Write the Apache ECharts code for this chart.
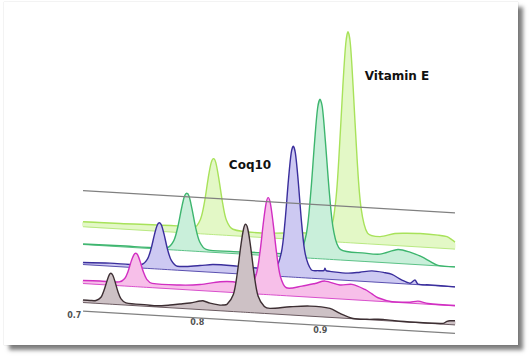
<!DOCTYPE html>
<html>
<head>
<meta charset="utf-8">
<script src="https://cdn.jsdelivr.net/npm/echarts@6.0.0/dist/echarts.min.js"></script>
<style>
html,body{margin:0;padding:0;background:#fff;width:530px;height:356px;overflow:hidden;}
#card{position:absolute;left:4px;top:2px;width:514px;height:343px;background:#fff;
  box-shadow:5px 5px 4px rgba(0,0,0,0.5),0 0 1px rgba(0,0,0,0.25);}
#chart{position:absolute;left:0;top:0;width:530px;height:356px;}
</style>
</head>
<body>
<div id="card"></div>
<div id="chart"></div>
<script>
// ---------- data (retention time [min], intensity) ----------
const tickValues = [0.7, 0.8, 0.9];
const tickLabels = ['0.7', '0.8', '0.9'];
const peakLabels = ['Coq10', 'Vitamin E'];
const timeRange = [0.7071, 1.0095];

// front trace (grey)
const trace1 = [[0.7071,2.5],[0.7128,2.5],[0.7176,2.8],[0.7217,6.3],[0.7241,13.2],[0.7266,23.1],[0.7284,29.2],[0.7298,30.9],[0.7313,29],[0.7331,22.8],[0.7355,12.9],[0.7380,6],[0.7420,2.3],[0.7591,1.5],[0.7672,1.2],[0.7778,2.7],[0.7859,4.3],[0.7941,6],[0.8022,8.5],[0.8046,9],[0.8103,7],[0.8185,5.7],[0.8209,5.9],[0.8242,6.9],[0.8293,17.1],[0.8323,36.8],[0.8353,65.5],[0.8376,83.2],[0.8393,88],[0.8411,83.2],[0.8434,65.5],[0.8464,36.8],[0.8494,17.1],[0.8545,6.9],[0.8591,5.4],[0.8754,8.2],[0.8916,10.1],[0.9079,9],[0.9160,4.6],[0.9266,0.3],[0.9380,0.3],[0.9510,1.2],[0.9648,0.3],[0.9835,0.3],[0.9998,0.8],[1.0030,3],[1.0054,3.8],[1.0095,4.1]];
// magenta
const trace2 = [[0.7071,3],[0.7209,3.5],[0.7365,3.8],[0.7410,7.6],[0.7437,14.8],[0.7463,25.3],[0.7484,31.7],[0.7499,33.5],[0.7515,32],[0.7535,25.6],[0.7562,15.1],[0.7589,8],[0.7633,4.3],[0.7859,4.3],[0.8022,6],[0.8185,10],[0.8290,10.8],[0.8431,9],[0.8480,20],[0.8509,41.4],[0.8538,72.6],[0.8560,91.7],[0.8577,97],[0.8594,91.5],[0.8616,72.3],[0.8646,40.9],[0.8675,19.2],[0.8724,8],[0.8851,10.6],[0.8957,14],[0.9038,17],[0.9160,14],[0.9258,15.3],[0.9363,11],[0.9420,7],[0.9469,3.5],[0.9583,0.3],[0.9729,1],[0.9794,2.5],[0.9876,0.8],[1.0095,0.4]];
// blue
const trace3 = [[0.7071,2],[0.7290,3],[0.7545,3.5],[0.7593,8.9],[0.7623,19.3],[0.7652,34.5],[0.7674,43.8],[0.7691,46.4],[0.7708,44.3],[0.7730,35],[0.7759,19.8],[0.7789,9.4],[0.7837,4],[0.8022,6],[0.8128,7.8],[0.8323,7.7],[0.8493,7],[0.8634,8.4],[0.8683,23.7],[0.8712,53.5],[0.8741,97],[0.8763,123.7],[0.8780,131],[0.8798,123.7],[0.8820,97],[0.8849,53.5],[0.8878,23.7],[0.8927,8.4],[0.8981,8],[0.9030,8.5],[0.9038,11],[0.9047,8.5],[0.9079,8],[0.9225,7.3],[0.9323,9],[0.9420,11],[0.9526,10],[0.9583,8.7],[0.9664,3.6],[0.9729,1],[0.9770,4.5],[0.9794,0.5],[0.9892,0.5],[1.0095,0]];
// green
const trace4 = [[0.7071,0.5],[0.7372,1],[0.7755,2.1],[0.7808,9.1],[0.7840,22.5],[0.7872,42.2],[0.7895,54.2],[0.7914,57.5],[0.7933,54.7],[0.7956,42.7],[0.7988,23],[0.8020,9.6],[0.8072,2.6],[0.8266,2],[0.8510,2.5],[0.8754,3],[0.8832,4.7],[0.8887,24.4],[0.8920,61.9],[0.8954,117.2],[0.8978,150.4],[0.8998,159.5],[0.9017,151.4],[0.9041,118.2],[0.9075,64.9],[0.9108,28.9],[0.9163,10.7],[0.9363,8.4],[0.9485,8.3],[0.9632,14],[0.9729,12],[0.9827,8],[0.9892,4],[0.9957,0.5],[1.0095,0]];
// light green (back)
const trace5 = [[0.7071,5],[0.7372,5.5],[0.7835,6.5],[0.7973,5.8],[0.8026,14.6],[0.8058,31.6],[0.8089,56.5],[0.8113,71.8],[0.8132,76],[0.8150,72.3],[0.8174,57],[0.8206,32.1],[0.8237,15.1],[0.8290,6.5],[0.8493,4.5],[0.8835,7],[0.9067,10.2],[0.9120,35.4],[0.9151,84.1],[0.9183,155.4],[0.9207,199],[0.9225,211],[0.9244,199.5],[0.9267,155.9],[0.9299,84.6],[0.9331,35.9],[0.9384,10.7],[0.9485,8],[0.9607,12],[0.9705,13],[0.9811,13.5],[0.9957,13],[1.0030,12],[1.0071,9],[1.0095,7]];

// ---------- waterfall layout ----------
const skew = 74;                 // baseline drop per minute (perspective)
const wallOffset = 150;
const axisOffset = 29.5;
const layers = [
  {name: 'Sample 5', data: trace5, offset: 113.8, fill: '#e3f8c6', stroke: '#a8e25a', base: '#b9e982'},
  {name: 'Sample 4', data: trace4, offset: 96,    fill: '#c9efda', stroke: '#3db56e', base: '#5cc287'},
  {name: 'Sample 3', data: trace3, offset: 76,    fill: '#cdc9f2', stroke: '#3a2e9c', base: '#5a50b0'},
  {name: 'Sample 2', data: trace2, offset: 57,    fill: '#f7bfe9', stroke: '#d12ec2', base: '#d94fcc'},
  {name: 'Sample 1', data: trace1, offset: 38,    fill: '#cdc1c5', stroke: '#3d2f33', base: '#6a5a60'}
];
const baseAt = (offset, t) => offset - skew * (t - 0.7);

function makeRenderItem(L) {
  return function (params, api) {
    const ctx = params.context;
    if (!ctx.top) { ctx.top = []; ctx.base = []; }
    const t = api.value(0), h = api.value(1), b = api.value(2);
    ctx.top.push(api.coord([t, b + h]));
    ctx.base.push(api.coord([t, b]));
    if (params.dataIndexInside !== params.dataInsideLength - 1) return null;
    const poly = ctx.top.concat(ctx.base.slice().reverse());
    return {
      type: 'group',
      children: [
        {type: 'polygon', shape: {points: poly, smooth: 0.3}, style: {fill: L.fill, stroke: null}},
        {type: 'polyline', shape: {points: ctx.base.slice()}, style: {stroke: L.base, lineWidth: 1, fill: 'none'}},
        {type: 'polyline', shape: {points: ctx.top.slice(), smooth: 0.3}, style: {stroke: L.stroke, lineWidth: 1.4, fill: 'none'}}
      ]
    };
  };
}

const series = [];
series.push({
  type: 'line', name: 'wall', silent: true, symbol: 'none',
  data: timeRange.map(t => [t, baseAt(wallOffset, t)]),
  lineStyle: {color: '#808080', width: 1.3}
});
layers.forEach(L => {
  series.push({
    type: 'custom', name: L.name, silent: true,
    dimensions: ['time', 'intensity', 'base'],
    encode: {x: 0, y: 1},
    data: L.data.map(p => [p[0], p[1], baseAt(L.offset, p[0])]),
    renderItem: makeRenderItem(L)
  });
});
series.push({
  type: 'line', name: 'axis', silent: true, symbol: 'none',
  data: timeRange.map(t => [t, baseAt(axisOffset, t)]),
  lineStyle: {color: '#808080', width: 1.3}
});
series.push({
  type: 'scatter', name: 'ticks', silent: true, symbolSize: 0,
  data: tickValues.map(t => [t, baseAt(axisOffset, t)]),
  label: {
    show: true, position: 'bottom', distance: 1,
    formatter: p => tickLabels[p.dataIndex],
    fontFamily: 'DejaVu Sans', fontWeight: 'bold', fontSize: 8, color: '#222'
  }
});

const chart = echarts.init(document.getElementById('chart'), null, {renderer: 'svg'});
chart.setOption({
  animation: false,
  backgroundColor: 'transparent',
  grid: {left: 12.8, width: 492, top: 0, height: 340},
  xAxis: {type: 'value', min: 0.65, max: 1.05, show: false},
  yAxis: {type: 'value', min: 0, max: 340, show: false},
  graphic: [
    {type: 'text', x: 250, y: 165, silent: true,
     style: {text: peakLabels[0], align: 'center', verticalAlign: 'middle', font: 'bold 12px "DejaVu Sans"', fill: '#111'}},
    {type: 'text', x: 397, y: 75.5, silent: true,
     style: {text: peakLabels[1], align: 'center', verticalAlign: 'middle', font: 'bold 12px "DejaVu Sans"', fill: '#111'}}
  ],
  series: series
});
</script>
</body>
</html>
